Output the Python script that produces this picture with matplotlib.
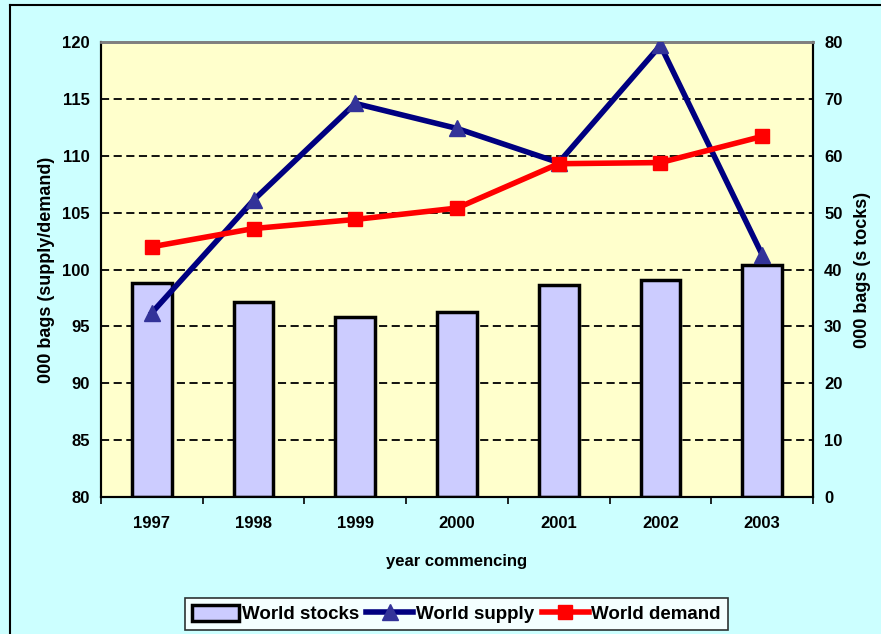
import matplotlib
matplotlib.use("Agg")
import matplotlib.pyplot as plt
from matplotlib.lines import Line2D
import numpy as np

years = ["1997", "1998", "1999", "2000", "2001", "2002", "2003"]
world_stocks = [37.6, 34.3, 31.7, 32.5, 37.3, 38.2, 40.8]
world_supply = [96.2, 106.1, 114.6, 112.4, 109.4, 119.7, 101.3]
world_demand = [102.0, 103.6, 104.4, 105.4, 109.3, 109.4, 111.7]
left_ticks = [80, 85, 90, 95, 100, 105, 110, 115, 120]
right_ticks = [0, 10, 20, 30, 40, 50, 60, 70, 80]

plt.rcParams['font.family'] = ['Liberation Sans', 'DejaVu Sans']
plt.rcParams['font.weight'] = 'bold'
FS = 12

W, H = 881, 634
fig = plt.figure(figsize=(W / 100, H / 100), dpi=100, facecolor='#CCFFFF')

# figure border (left and top visible)
fig.add_artist(Line2D([10 / W, 10 / W], [0, 1 - 5 / H], color='black', lw=1.5, transform=fig.transFigure))
fig.add_artist(Line2D([10 / W, 1], [1 - 5 / H, 1 - 5 / H], color='black', lw=1.5, transform=fig.transFigure))

l, r, t, b = 101, 813, 42, 497
ax = fig.add_axes([l / W, 1 - b / H, (r - l) / W, (b - t) / H])
ax.set_facecolor('#FFFFCC')
x = np.arange(len(years))

bars = ax.bar(x, world_stocks, width=0.39, color='#CCCCFF', edgecolor='black', linewidth=2.5, zorder=2)
ax.set_ylim(0, 80)
ax.set_xlim(-0.5, len(years) - 0.5)
ax.set_axisbelow(True)
ax.grid(axis='y', color='black', linestyle=(0, (4.5, 2.5)), linewidth=1.3)

ax.set_xticks(x)
ax.set_xticklabels(years, fontsize=FS, fontweight='bold')
ax.set_xticks(np.arange(len(years) + 1) - 0.5, minor=True)
ax.tick_params(axis='x', which='major', length=0, pad=14)
ax.tick_params(axis='x', which='minor', length=5, width=1.2, direction='out', color='black')
ax.set_xlabel('year commencing', fontsize=FS, fontweight='bold', labelpad=16)

ax2 = ax.twinx()
ax2.set_ylim(80, 120)
ax2.set_yticks(left_ticks)
ax2.yaxis.tick_left()
ax2.yaxis.set_label_position('left')
ax2.tick_params(axis='y', length=0, pad=8, labelsize=FS)
ax2.set_ylabel('000 bags (supply/demand)', fontsize=13, fontweight='bold', labelpad=5)
ax2.patch.set_visible(False)

ax.set_yticks(right_ticks)
ax.yaxis.tick_right()
ax.yaxis.set_label_position('right')
ax.tick_params(axis='y', length=0, pad=8, labelsize=FS)
ax.set_ylabel('000 bags (s tocks)', fontsize=13, fontweight='bold', labelpad=8)

sup, = ax2.plot(x, world_supply, color='#000080', lw=4, marker='^', markersize=11,
                markerfacecolor='#333399', markeredgecolor='#333399', zorder=3)
dem, = ax2.plot(x, world_demand, color='#FF0000', lw=4, marker='s', markersize=10,
                markerfacecolor='#FF0000', markeredgecolor='#FF0000', zorder=4)

for a in (ax, ax2):
    for s in ('left', 'right', 'bottom'):
        a.spines[s].set_color('black')
        a.spines[s].set_linewidth(1.5)
    a.spines['top'].set_color('#808080')
    a.spines['top'].set_linewidth(2)

leg = fig.legend([bars, sup, dem], ['World stocks', 'World supply', 'World demand'],
                 loc='center', bbox_to_anchor=((180 + 733) / 2 / W, 1 - 614 / H), ncol=3,
                 fontsize=13.5, frameon=True, fancybox=False, edgecolor='black',
                 facecolor='white', handlelength=2.5, handleheight=1.0, handletextpad=0.15,
                 columnspacing=0.4, borderpad=0.35, borderaxespad=0)
leg.get_frame().set_linewidth(1.2)

fig.savefig('out.png', dpi=100, facecolor=fig.get_facecolor())
